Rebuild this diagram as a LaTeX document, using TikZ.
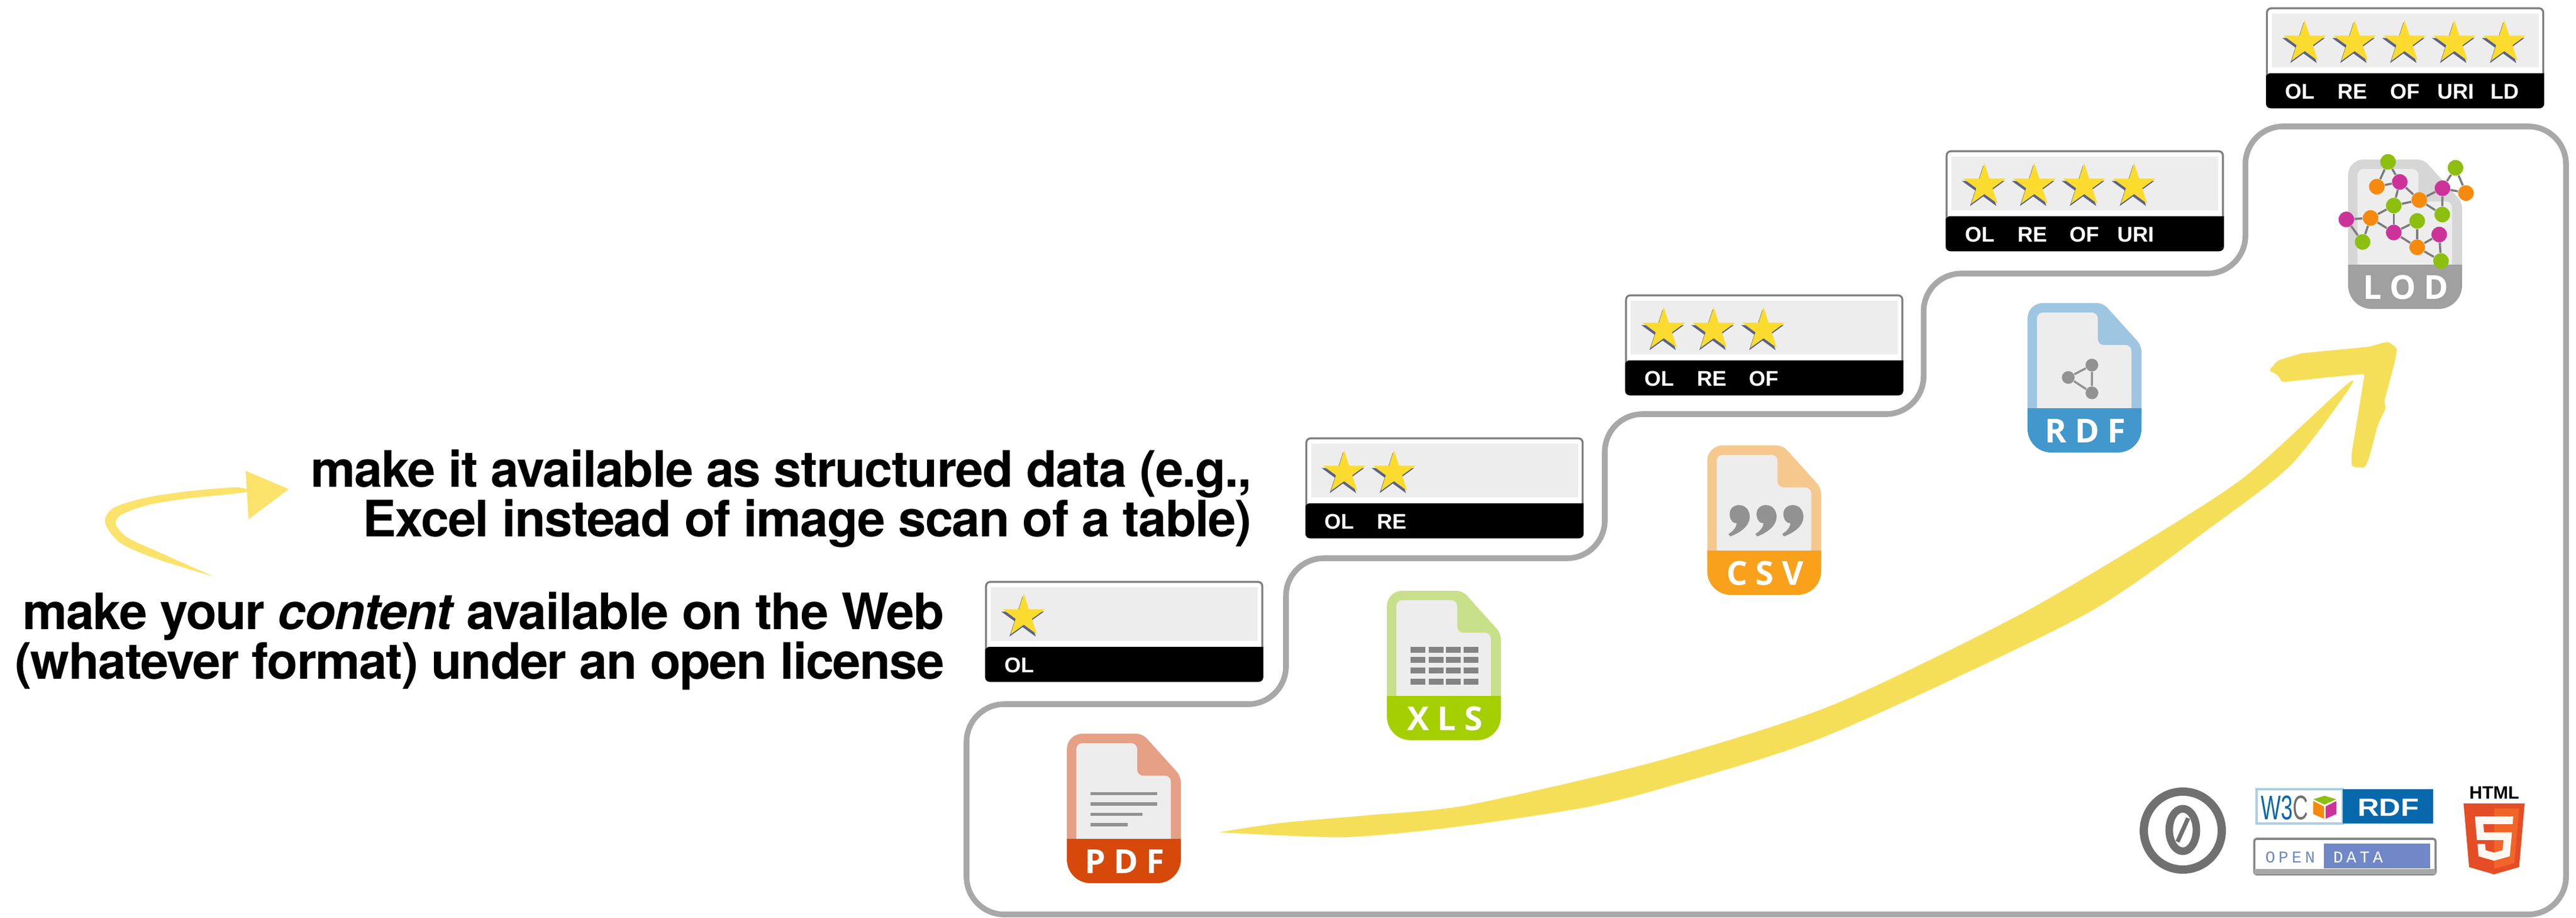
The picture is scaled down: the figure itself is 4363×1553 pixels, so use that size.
\documentclass[tikz,border=0pt]{standalone}
\usepackage{fontspec}
\setmainfont{Liberation Sans}
\newfontfamily\headfont[LetterSpace=-2.0]{TeX Gyre Heros}
\newfontfamily\iconfont[LetterSpace=25]{Open Sans}
\newfontfamily\wfont[FakeStretch=0.62]{Liberation Sans}
\newfontfamily\wrdffont[FakeStretch=1.2]{Liberation Sans}
\newfontfamily\odfont[LetterSpace=20]{Liberation Mono}
\definecolor{stairgray}{HTML}{A8A8A8}
\definecolor{badgeedge}{HTML}{7C7C7C}
\definecolor{panel}{HTML}{EDEDED}
\definecolor{starfill}{HTML}{FBDC2E}
\definecolor{starshade}{HTML}{5B6186}
\definecolor{swoosh}{HTML}{F6DF58}
\definecolor{swooshlight}{HTML}{FBE26A}
\definecolor{glyphgray}{HTML}{929292}
\definecolor{pdfdark}{HTML}{D6490A}\definecolor{pdflight}{HTML}{E5A086}
\definecolor{xlsdark}{HTML}{A5CF00}\definecolor{xlslight}{HTML}{C9E08A}
\definecolor{csvdark}{HTML}{F9A11B}\definecolor{csvlight}{HTML}{F5C88E}
\definecolor{rdfdark}{HTML}{4298CC}\definecolor{rdflight}{HTML}{9EC6E0}
\definecolor{loddark}{HTML}{A0A0A0}\definecolor{lodlight}{HTML}{D6D6D6}
\definecolor{lodgreen}{HTML}{8CBF10}\definecolor{lodorange}{HTML}{F68A0E}\definecolor{lodmagenta}{HTML}{CC3399}
\definecolor{wblue}{HTML}{0868AC}\definecolor{wedge}{HTML}{A8D0E8}
\definecolor{odblue}{HTML}{7088C8}\definecolor{ccgray}{HTML}{707070}
\definecolor{htmlred}{HTML}{E44D26}\definecolor{htmlorange}{HTML}{F16529}
\tikzset{
  stairline/.style={draw=stairgray,line width=2.4pt,fill=white,rounded corners=16pt},
  headline/.style={inner sep=0pt,align=right,font=\headfont\bfseries\fontsize{21.25}{21}\selectfont},
  tag/.style={inner sep=0pt,anchor=base,text=white,font=\bfseries\fontsize{9}{9}\selectfont},
  iconlabel/.style={inner sep=0pt,anchor=base,text=white,font=\iconfont\bfseries\fontsize{14}{14}\selectfont},
  lodnode/.style={circle,inner sep=0pt,minimum size=6.6pt},
  lodedge/.style={draw=glyphgray!85!black,line width=.9pt},
  rdfnode/.style={circle,inner sep=0pt,minimum size=5.4pt,fill=glyphgray},
  rdfedge/.style={draw=glyphgray,line width=.9pt},
}
\newcommand{\starpath}{(-90:38)--(-54:14.5)--(-18:38)--(18:14.5)--(54:38)--(90:14.5)--(126:38)--(162:14.5)--(198:38)--(234:14.5)--cycle}
\newcommand{\badge}[5]{% id, x, y, number of stars, list of x/label
  \begin{scope}[shift={(#2,#3)}]
    \draw[badgeedge,line width=.8pt,fill=white,rounded corners=1.8pt] (0,0) rectangle (468,168);
    \fill[panel] (8,9) rectangle (460,100);
    \fill[black,rounded corners=1.8pt] (-1.5,120) -- (-1.5,110) [sharp corners] -- (469.5,110) -- (469.5,120) [rounded corners=1.8pt] -- (469.5,169) -- (-1.5,169) -- cycle;
    \foreach \s in {1,...,#4}{
      \begin{scope}[shift={({64+84.5*(\s-1)},58)}]
        \fill[starshade,shift={(-2,4)}] \starpath;
        \fill[starfill] \starpath;
      \end{scope}
    }
    \foreach \lx/\lt in {#5}{\node[tag] (#1-\lt) at (\lx,153) {\lt};}
  \end{scope}}
\newcommand{\fileicon}[6]{% id,x,y,light,dark,label
  \begin{scope}[shift={(#2,#3)}]
    \fill[#4] [rounded corners=6.5pt] (0,200) -- (0,0) [rounded corners=2.5pt] -- (128,0) -- (193,72) -- (193,200) -- cycle;
    \fill[panel] [rounded corners=2.5pt] (16,190) -- (16,16) -- (119,16) -- (119,71) -- (176,71) -- (176,190) -- cycle;
    \fill[#5] [sharp corners] (0,178) -- (193,178) [rounded corners=10pt] -- (193,253) -- (0,253) [sharp corners] -- cycle;
    \node[iconlabel] (#1) at (98,236) {#6};
  \end{scope}}
\newcommand{\commaglyph}[1]{%
  \begin{scope}[shift={(#1,101)}]
    \fill[glyphgray] (-15,15) .. controls (-15,5) and (-7,0) .. (1,0) .. controls (12,0) and (19,9) .. (19,20) .. controls (19,35) and (3,47) .. (-14,53) -- (-17,49) .. controls (-9,44) and (-4,38) .. (-3,31) .. controls (-10,31) and (-15,24) .. (-15,15) -- cycle;
  \end{scope}}
\begin{document}
\begin{tikzpicture}[x=.25pt,y=-.25pt]
\useasboundingbox (0,0) rectangle (4363,1553);
\fill[white] (0,0) rectangle (4363,1553);
% stairs
\draw[stairline] (1637,1548) -- (1637,1192) -- (2178,1192) -- (2178,945) -- (2718,945) -- (2718,701) -- (3258,701) -- (3258,463) -- (3803,463) -- (3803,214) -- (4346,214) -- (4346,1548) -- cycle;
% big swoosh
\fill[swoosh] plot[smooth,tension=.45] coordinates {(2070,1408) (2170,1393) (2317,1380) (2485,1363) (2801,1290) (3100,1195) (3418,1042) (3660,900) (3807,803) (3972,653) (3975,663) (3880,787) (3748,890) (3528,1042) (3100,1243) (2830,1330) (2683,1367) (2463,1400) (2280,1417) (2085,1410) (2070,1408)};
\fill[swoosh] [rounded corners=1pt] (3843,627) -- (3858,610) -- (3898,598) -- (4012,587) -- (4045,578) -- (4060,590) -- (4056,613) -- (4038,680) -- (4041,690) -- (4027,720) -- (4012,777) -- (4005,792) -- (3983,790) -- (3983,767) -- (4005,633) -- (3939,639) -- (3865,647) -- (3858,635) -- cycle;
% small swoosh
\fill[swooshlight] plot[smooth,tension=.5] coordinates {(362,976) (265,946) (204,919) (178,885) (192,860) (245,843) (316,832) (400,825) (416,833) (316,844) (250,855) (206,871) (196,887) (216,910) (272,936) (362,976)};
\fill[swooshlight] (416,797) -- (489,828) -- (421,879) -- cycle;
% texts
\node[headline,anchor=base east] (struct) at (2121,908) {make it available as structured data (e.g.,\\Excel instead of image scan of a table)};
\node[headline,anchor=base east] (open) at (1600,1149) {make your \textit{content} available on the Web\\(whatever format) under an open license};
% badges
\badge{oa}{1670}{985}{1}{56/OL}
\badge{ob}{2212.5}{742}{2}{56/OL,145/RE}
\badge{oc}{2754}{500}{3}{56/OL,145/RE,233.5/OF}
\badge{od}{3297}{256}{4}{56/OL,145/RE,233.5/OF,320/URI}
\badge{oe}{3839.5}{14}{5}{56/OL,145/RE,233.5/OF,320/URI,403/LD}
% icons
\fileicon{pdf}{1807}{1242}{pdflight}{pdfdark}{PDF}
\begin{scope}[shift={(1807,1242)}]
  \draw[glyphgray,line width=1.4pt] (40,101.5) -- (153,101.5) (40,119) -- (153,119) (40,136.5) -- (128,136.5) (40,154) -- (103,154);
\end{scope}
\fileicon{xls}{2349}{1000}{xlslight}{xlsdark}{XLS}
\begin{scope}[shift={(2349,1000)}]
  \foreach \cx in {40,71,100,130}{\foreach \cy in {95,112,130,148.5}{
    \fill[glyphgray!90!black] (\cx,\cy) rectangle ++(25,10);}}
\end{scope}
\fileicon{csv}{2891.5}{754}{csvlight}{csvdark}{CSV}
\begin{scope}[shift={(2891.5,754)}]
  \commaglyph{53}\commaglyph{98.5}\commaglyph{144}
\end{scope}
\fileicon{rdf}{3434}{513}{rdflight}{rdfdark}{RDF}
\begin{scope}[shift={(3434,513)}]
  \node[rdfnode] (ra) at (109,105) {};
  \node[rdfnode] (rb) at (69,126) {};
  \node[rdfnode] (rc) at (109,152) {};
  \draw[rdfedge] (ra) -- (rb) (rb) -- (rc) (rc) -- (ra);
\end{scope}
\fileicon{lod}{3977}{270}{lodlight}{loddark}{LOD}
% LOD graph
\foreach \n/\c/\px/\py in {G1/lodgreen/4044.6/274,O1/lodorange/4025.6/316,M1/lodmagenta/4064.5/308,G2/lodgreen/4158.8/284,M2/lodmagenta/4136.8/318.6,O2/lodorange/4176.5/326.8,O3/lodorange/4097.5/338.6,G3/lodgreen/4054.3/348,G4/lodgreen/4136.4/363.2,M3/lodmagenta/3974/371.4,O4/lodorange/4015/369,G5/lodgreen/4094/374,M4/lodmagenta/4054.3/393.6,M5/lodmagenta/4131.3/397,G6/lodgreen/4001.5/409.6,O5/lodorange/4094/418.6,G7/lodgreen/4134.3/441.8}{
  \node[lodnode,fill=\c] (\n) at (\px,\py) {};
}
\foreach \p/\q in {G1/O1,G1/M1,O1/M1,M1/G3,M1/O3,O3/G3,O3/M2,O3/G4,M2/G2,M2/O2,G2/O2,M2/G4,G3/O4,G3/M4,O4/M3,O4/G6,M3/G6,O4/M4,M4/G5,G5/O5,M4/O5,O5/M5,O5/G7,M5/G7}{
  \draw[lodedge] (\p) -- (\q);
}
% CC0
\draw[ccgray,line width=3.5pt] (3697,1406) circle[radius=66];
\draw[ccgray,line width=3.2pt] (3697,1405) ellipse[x radius=23,y radius=36];
\draw[ccgray,line width=1.8pt] (3688,1425) -- (3706,1385);
% W3C RDF
\draw[wedge,line width=.9pt,fill=white] (3822,1336) rectangle (3968,1394);
\fill[wblue] (3968,1336) rectangle (4121,1394);
\node[inner sep=0pt,anchor=base,text=wblue,font=\wfont\fontsize{14.5}{14.5}\selectfont] (wlogo) at (3869,1387) {W3\textcolor{ccgray}{C}};
\fill[lodgreen] (3918,1353) -- (3937,1347) -- (3957,1353) -- (3937,1362) -- cycle;
\fill[lodorange] (3918,1356) -- (3936,1365) -- (3936,1386) -- (3918,1378) -- cycle;
\fill[lodmagenta] (3939,1365) -- (3957,1356) -- (3957,1378) -- (3939,1386) -- cycle;
\node[inner sep=0pt,anchor=base,text=white,font=\wrdffont\bfseries\fontsize{10.5}{10.5}\selectfont] (wrdf) at (4045,1381) {RDF};
% Open data
\draw[stairgray!80!black,line width=.9pt,fill=white,rounded corners=1pt] (3818,1420) rectangle (4125,1480);
\fill[stairgray] (3818,1471) rectangle (4125,1480);
\fill[odblue] (3936,1428) rectangle (4116,1470);
\node[inner sep=0pt,anchor=base west,text=odblue,font=\odfont\fontsize{7}{7}\selectfont] (odopen) at (3836,1460) {OPEN};
\node[inner sep=0pt,anchor=base west,text=white,font=\odfont\fontsize{7}{7}\selectfont] (oddata) at (3951,1460) {DATA};
% HTML5
\node[inner sep=0pt,anchor=base,font=\bfseries\fontsize{7.6}{7.6}\selectfont] (htmlword) at (4224.5,1352) {HTML};
\begin{scope}[shift={(4165.6,1360)},xscale=.2295,yscale=.2344]
  \fill[htmlred] (71,460) -- (30,0) -- (481,0) -- (440,460) -- (255,512) -- cycle;
  \fill[htmlorange] (256,472) -- (405,431) -- (440,37) -- (256,37) -- cycle;
  \fill[white!95!orange] (256,208) -- (181,208) -- (176,150) -- (256,150) -- (256,94) -- (114,94) -- (129,265) -- (256,265) -- cycle;
  \fill[white!95!orange] (256,355) -- (193,338) -- (189,293) -- (133,293) -- (141,382) -- (256,414) -- cycle;
  \fill[white!95!orange] (255,208) -- (255,265) -- (325,265) -- (318,338) -- (255,355) -- (255,414) -- (371,382) -- (387,208) -- cycle;
  \fill[white!95!orange] (255,94) -- (255,150) -- (392,150) -- (397,94) -- cycle;
\end{scope}
\end{tikzpicture}
\end{document}
